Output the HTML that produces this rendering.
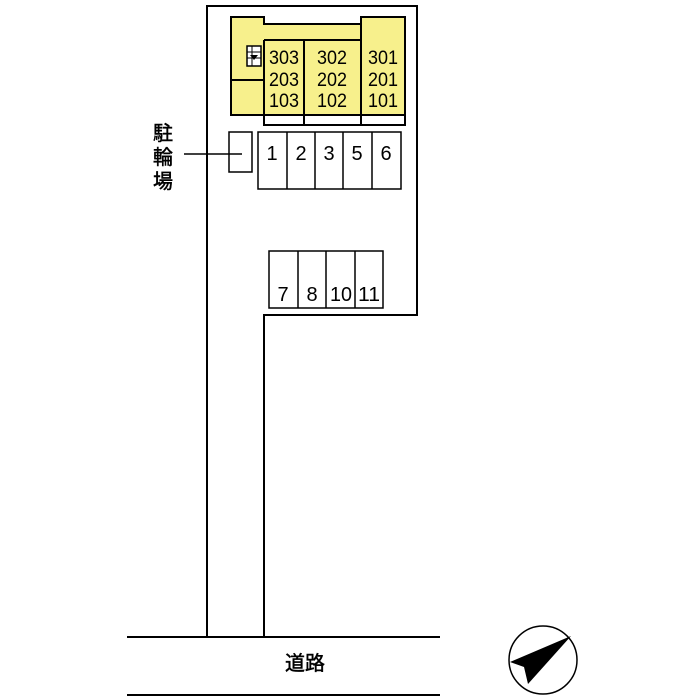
<!DOCTYPE html>
<html><head><meta charset="utf-8"><style>
html,body{margin:0;padding:0;background:#fff;width:700px;height:700px;overflow:hidden}
</style></head><body>
<svg width="700" height="700" viewBox="0 0 700 700" xmlns="http://www.w3.org/2000/svg" font-family="Liberation Sans, Noto Sans CJK JP, sans-serif">
<g fill="none" stroke="#000" stroke-width="2">
<path d="M207 637 V6 H417 V315 H264 V637"/>
</g>
<g stroke="#000" stroke-width="2">
<path d="M231 17 H264 V24 H361 V17 H405 V115 H231 Z" fill="#f7f08c"/>
<path d="M264 40 H361 M264 40 V115 M304 40 V125 M361 24 V125 M231 80 H264" fill="none"/>
<path d="M264 115 V125 H405 V115" fill="none"/>
<rect x="247" y="46" width="14" height="20" fill="#fff" stroke-width="1.5"/>
<path d="M247 52 H261 M247 58 H261 M252 46 V66" stroke-width="1"/>
<path d="M250 55 H258 L254 60 Z" fill="#000" stroke="none"/>
</g>
<g font-size="19" text-anchor="middle" fill="#000">
<text x="284" y="64" textLength="30" lengthAdjust="spacingAndGlyphs">303</text><text x="284" y="86" textLength="30" lengthAdjust="spacingAndGlyphs">203</text><text x="284" y="107" textLength="30" lengthAdjust="spacingAndGlyphs">103</text>
<text x="332" y="64" textLength="30" lengthAdjust="spacingAndGlyphs">302</text><text x="332" y="86" textLength="30" lengthAdjust="spacingAndGlyphs">202</text><text x="332" y="107" textLength="30" lengthAdjust="spacingAndGlyphs">102</text>
<text x="383" y="64" textLength="30" lengthAdjust="spacingAndGlyphs">301</text><text x="383" y="86" textLength="30" lengthAdjust="spacingAndGlyphs">201</text><text x="383" y="107" textLength="30" lengthAdjust="spacingAndGlyphs">101</text>
</g>
<g fill="#fff" stroke="#000" stroke-width="1.5">
<rect x="229" y="132" width="23" height="40"/>
<rect x="258" y="132" width="143" height="57"/>
<path d="M287 132 V189 M315 132 V189 M343 132 V189 M372 132 V189"/>
<rect x="269" y="251" width="114" height="57"/>
<path d="M298 251 V308 M326 251 V308 M355 251 V308"/>
<path d="M184 154 H242"/>
</g>
<g font-size="20" text-anchor="middle" fill="#000">
<text x="272" y="160">1</text><text x="301" y="160">2</text><text x="329" y="160">3</text><text x="357" y="160">5</text><text x="386" y="160">6</text>
<text x="283" y="301">7</text><text x="312" y="301">8</text><text x="341" y="301" textLength="22" lengthAdjust="spacingAndGlyphs">10</text><text x="369" y="301" textLength="22" lengthAdjust="spacingAndGlyphs">11</text>
</g>
<g font-size="20" text-anchor="middle" fill="#000" stroke="#000" stroke-width="0.5" font-family="Noto Sans CJK JP, sans-serif">
<text x="163" y="140">駐</text><text x="163" y="164">輪</text><text x="163" y="188">場</text>
<text x="305" y="670">道路</text>
</g>
<g stroke="#000" stroke-width="2">
<path d="M127 637 H440 M127 695 H440"/>
</g>
<circle cx="543" cy="660" r="34" fill="none" stroke="#000" stroke-width="1.5"/>
<path d="M571 636 L510 662 L524 667 L528 684 Z" fill="#000"/>
</svg>
</body></html>
